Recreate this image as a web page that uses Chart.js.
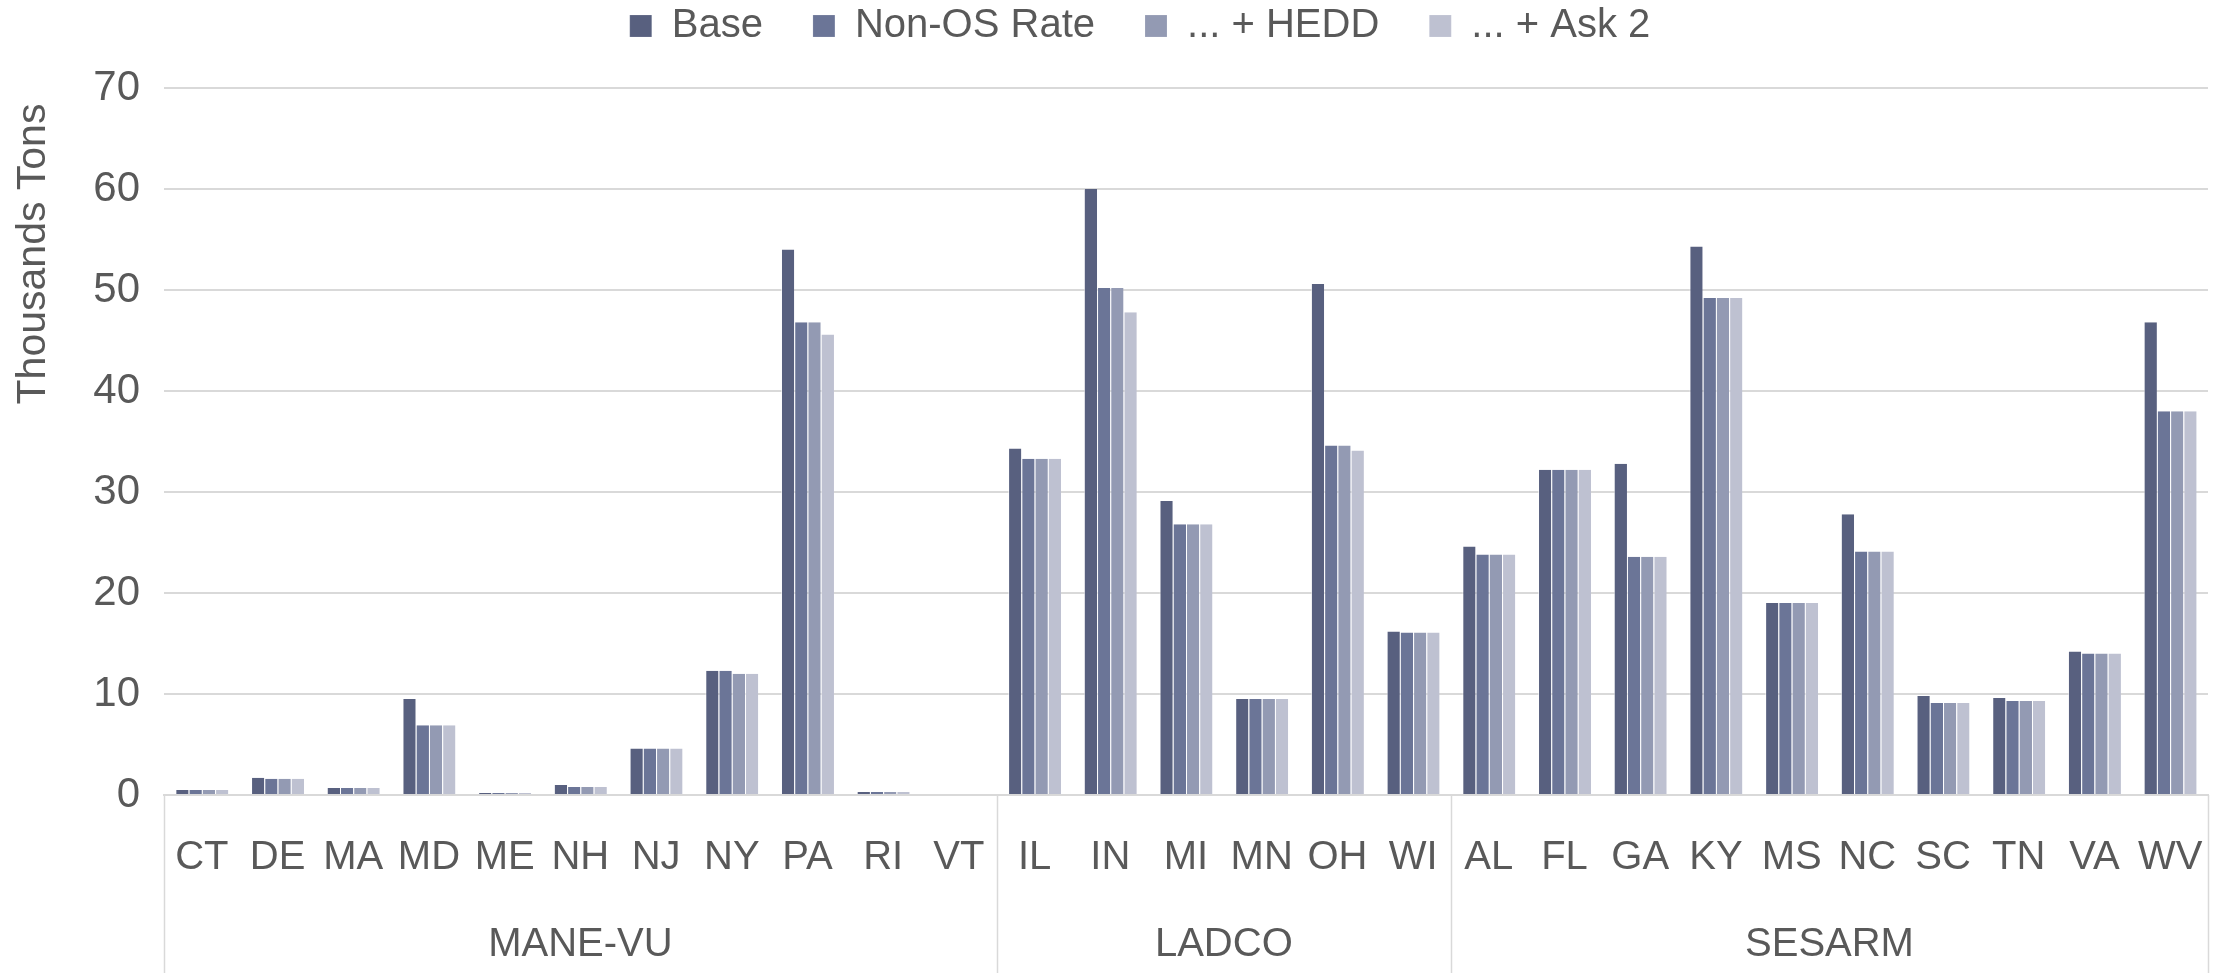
<!DOCTYPE html>
<html>
<head>
<meta charset="utf-8">
<title>Thousands Tons by state</title>
<script src="https://cdn.jsdelivr.net/npm/chart.js@4.4.1/dist/chart.umd.min.js"></script>
<style>
  html, body { margin: 0; padding: 0; background: #fff; }
  #wrap { width: 2231px; height: 973px; }
</style>
</head>
<body>
<div id="wrap"><canvas id="chart"></canvas></div>
<script>
// states along the x axis, grouped by region
const states = ['CT', 'DE', 'MA', 'MD', 'ME', 'NH', 'NJ', 'NY', 'PA', 'RI', 'VT',
  'IL', 'IN', 'MI', 'MN', 'OH', 'WI',
  'AL', 'FL', 'GA', 'KY', 'MS', 'NC', 'SC', 'TN', 'VA', 'WV'];
const regions = ['MANE-VU', 'LADCO', 'SESARM'];
const regionSizes = [11, 6, 10];

// thousands of tons
const baseVals  = [0.5, 1.7, 0.7, 9.5, 0.2, 1.0, 4.6, 12.3, 54.0, 0.3, 0.0, 34.3, 60.0, 29.1, 9.5, 50.6, 16.2, 24.6, 32.2, 32.8, 54.3, 19.0, 27.8, 9.8, 9.6, 14.2, 46.8];
const nonOsVals = [0.5, 1.6, 0.7, 6.9, 0.2, 0.8, 4.6, 12.3, 46.8, 0.3, 0.0, 33.3, 50.2, 26.8, 9.5, 34.6, 16.1, 23.8, 32.2, 23.6, 49.2, 19.0, 24.1, 9.1, 9.3, 14.0, 38.0];
const heddVals  = [0.5, 1.6, 0.7, 6.9, 0.2, 0.8, 4.6, 12.0, 46.8, 0.3, 0.0, 33.3, 50.2, 26.8, 9.5, 34.6, 16.1, 23.8, 32.2, 23.6, 49.2, 19.0, 24.1, 9.1, 9.3, 14.0, 38.0];
const ask2Vals  = [0.5, 1.6, 0.7, 6.9, 0.2, 0.8, 4.6, 12.0, 45.6, 0.3, 0.0, 33.3, 47.8, 26.8, 9.5, 34.1, 16.1, 23.8, 32.2, 23.6, 49.2, 19.0, 24.1, 9.1, 9.3, 14.0, 38.0];

const seriesNames = ['Base', 'Non-OS Rate', '... + HEDD', '... + Ask 2'];
const seriesColors = ['#58607f', '#6b7597', '#939ab3', '#bec1d1'];
const yTitle = 'Thousands Tons';

const textColor = '#595959';
const lineColor = '#d9d9d9';
const labelFont = 'Liberation Sans';

// region names + separators under the state labels, and the y title
const regionLabels = {
  id: 'regionLabels',
  afterDraw(chart) {
    const { ctx, chartArea } = chart;
    const x = chart.scales.x;
    const step = x.getPixelForValue(1) - x.getPixelForValue(0);
    const edges = [];
    let start = 0;

    ctx.save();
    ctx.fillStyle = textColor;
    ctx.font = '40px "' + labelFont + '"';
    ctx.textAlign = 'center';
    ctx.textBaseline = 'middle';
    regions.forEach((name, i) => {
      const end = start + regionSizes[i] - 1;
      const left = x.getPixelForValue(start) - step / 2;
      const right = x.getPixelForValue(end) + step / 2;
      if (i === 0) edges.push(left);
      edges.push(right);
      ctx.fillText(name, (left + right) / 2, chartArea.bottom + 150);
      start = end + 1;
    });

    ctx.strokeStyle = lineColor;
    ctx.lineWidth = 1.5;
    edges.forEach(px => {
      ctx.beginPath();
      ctx.moveTo(Math.round(px) + 0.5, chartArea.bottom);
      ctx.lineTo(Math.round(px) + 0.5, chart.height);
      ctx.stroke();
    });

    // excel puts the axis title in the upper half, not centred
    ctx.font = '41px "' + labelFont + '"';
    ctx.translate(34, chartArea.top + 166);
    ctx.rotate(-Math.PI / 2);
    ctx.fillText(yTitle, 0, 0);
    ctx.restore();
  }
};

// legend sits high, plot starts lower down
const legendPlacement = {
  id: 'legendPlacement',
  beforeLayout(chart) {
    const legend = chart.legend;
    if (!legend || legend._patched) return;
    const fit = legend.fit;
    legend.fit = function () {
      fit.call(this);
      this.height = 88;
    };
    legend._patched = true;
  },
  afterLayout(chart) {
    const legend = chart.legend;
    legend.top -= 44;
    legend.bottom -= 44;
    legend.left += 36;
    legend.right += 36;
  }
};

const datasets = [baseVals, nonOsVals, heddVals, ask2Vals].map((vals, i) => ({
  label: seriesNames[i],
  data: vals,
  backgroundColor: seriesColors[i],
  borderColor: 'rgba(255, 255, 255, 0.6)',
  borderWidth: { left: 1, right: 0, top: 0, bottom: 0 },
  borderSkipped: false,
  categoryPercentage: 0.70,
  barPercentage: 1.0
}));

new Chart(document.getElementById('chart'), {
  type: 'bar',
  data: {
    labels: states,
    datasets: datasets
  },
  options: {
    responsive: true,
    maintainAspectRatio: false,
    animation: false,
    layout: {
      padding: { left: 0, right: 23, top: 0, bottom: 0 }
    },
    plugins: {
      legend: {
        position: 'top',
        labels: {
          color: textColor,
          font: { family: labelFont, size: 40 },
          boxWidth: 22,
          boxHeight: 22,
          padding: 50
        }
      },
      tooltip: { enabled: false }
    },
    scales: {
      x: {
        grid: { display: false, drawTicks: false },
        border: { display: true, color: lineColor, width: 2 },
        ticks: {
          color: textColor,
          // tall line box pushes the labels down without widening the side padding
          font: { family: labelFont, size: 40, lineHeight: 3 },
          autoSkip: false,
          maxRotation: 0,
          padding: 3
        },
        afterFit(scale) {
          scale.height = 178;
        }
      },
      y: {
        min: 0,
        max: 70,
        grid: { color: lineColor, lineWidth: 2, drawTicks: false },
        border: { display: false },
        ticks: {
          stepSize: 10,
          color: textColor,
          font: { family: labelFont, size: 42 },
          padding: 24
        },
        afterFit(scale) {
          scale.width = 164;
        }
      }
    }
  },
  plugins: [legendPlacement, regionLabels]
});
</script>
</body>
</html>
